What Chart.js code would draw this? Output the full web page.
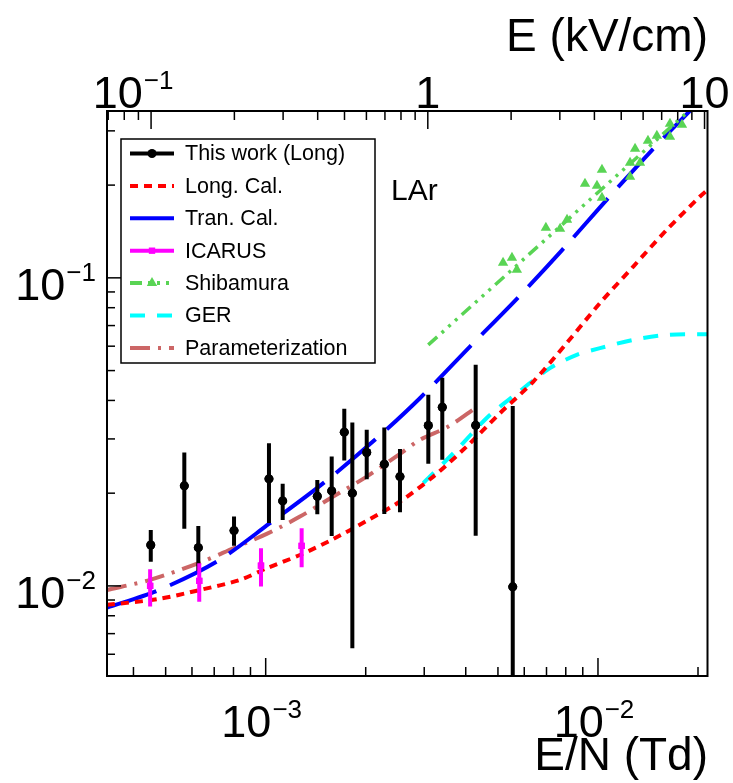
<!DOCTYPE html>
<html>
<head>
<meta charset="utf-8">
<script src="https://cdn.jsdelivr.net/npm/chart.js@4.4.0/dist/chart.umd.min.js"></script>
<style>
  html, body { margin: 0; padding: 0; background: #fff; }
  #wrap { width: 733px; height: 783px; }
</style>
</head>
<body>
<div id="wrap"><canvas id="c"></canvas></div>
<script>
// This work (Long): E/N (Td), value, error bar low / high
const workX  = [4.51e-4, 5.69e-4, 6.27e-4, 8.03e-4, 1.023e-3, 1.125e-3, 1.43e-3, 1.58e-3, 1.724e-3, 1.823e-3, 2.014e-3, 2.275e-3, 2.536e-3, 3.086e-3, 3.40e-3, 4.285e-3, 5.54e-3];
const workY  = [0.01358, 0.02113, 0.01331, 0.01512, 0.02226, 0.01888, 0.01955, 0.02034, 0.03155, 0.0200, 0.0271, 0.02484, 0.02264, 0.03316, 0.0380, 0.0332, 0.00993];
const workLo = [0.01199, 0.01532, 0.01119, 0.01351, 0.01601, 0.01638, 0.01709, 0.01453, 0.02552, 0.00628, 0.02221, 0.01713, 0.01735, 0.0249, 0.02566, 0.01456, 0.004];
const workHi = [0.01520, 0.02710, 0.01566, 0.01679, 0.02906, 0.02144, 0.02209, 0.02630, 0.03756, 0.03389, 0.0321, 0.03266, 0.02785, 0.0417, 0.0474, 0.0522, 0.0384];

// ICARUS
const icarusX  = [4.49e-4, 6.31e-4, 9.68e-4, 1.283e-3];
const icarusY  = [0.0100, 0.01038, 0.01164, 0.01349];
const icarusLo = [0.00857, 0.00889, 0.00995, 0.0115];
const icarusHi = [0.01133, 0.01185, 0.01325, 0.01539];

// Shibamura
const shibaX = [5.18e-3, 5.51e-3, 5.70e-3, 6.97e-3, 7.69e-3, 8.07e-3, 9.14e-3, 9.93e-3, 0.01028, 0.01028, 0.01249, 0.01249, 0.01293, 0.01338, 0.01414, 0.01504, 0.01647, 0.01647, 0.0179];
const shibaY = [0.1119, 0.1161, 0.1062, 0.1453, 0.1442, 0.1543, 0.2019, 0.1989, 0.2242, 0.1819, 0.2362, 0.2128, 0.2623, 0.2362, 0.2784, 0.2891, 0.2869, 0.3162, 0.3139];
const shibaLineX = [3.085e-3, 0.01918];
const shibaLineY = [0.0606, 0.3557];

// Long. Cal.
const longX = [3.33e-4, 4.70e-4, 6.34e-4, 8.37e-4, 1.007e-3, 1.268e-3, 1.594e-3, 2.014e-3, 2.536e-3, 3.194e-3, 4.025e-3, 5.07e-3, 6.39e-3, 8.05e-3, 0.01014, 0.01277, 0.01609, 0.02028, 0.02136];
const longY = [0.00868, 0.00905, 0.0097, 0.01046, 0.01141, 0.0126, 0.01418, 0.01626, 0.01879, 0.02264, 0.02834, 0.03636, 0.04607, 0.0614, 0.0828, 0.1088, 0.1431, 0.1837, 0.193];

// Tran. Cal.
const tranX = [3.33e-4, 4.70e-4, 7.12e-4, 1.030e-3, 1.491e-3, 2.132e-3, 2.911e-3, 4.118e-3, 5.69e-3, 7.81e-3, 0.01062, 0.0145, 0.01914, 0.0214];
const tranY = [0.0085, 0.00963, 0.01199, 0.01598, 0.02155, 0.02979, 0.04067, 0.05984, 0.0853, 0.1233, 0.1792, 0.259, 0.353, 0.40];

// GER
const gerX = [2.98e-3, 3.085e-3, 3.713e-3, 4.676e-3, 5.63e-3, 7.17e-3, 8.63e-3, 0.01014, 0.01277, 0.01609, 0.02136];
const gerY = [0.0216, 0.02237, 0.0273, 0.03546, 0.0417, 0.05091, 0.05623, 0.05911, 0.06291, 0.0653, 0.06565];

// Parameterization
const paramX = [3.33e-4, 4.485e-4, 6.34e-4, 7.99e-4, 1.007e-3, 1.268e-3, 1.597e-3, 2.014e-3, 2.536e-3, 2.911e-3, 3.543e-3, 4.265e-3];
const paramY = [0.0097, 0.01046, 0.0119, 0.01325, 0.01475, 0.01679, 0.0195, 0.02264, 0.02683, 0.02979, 0.0329, 0.03775];

// axis ranges and labelled ticks
const xRange = [3.33e-4, 0.02136];
const eRange = [0.0693, 10.25];
const yRange = [0.0051, 0.348];
const xTicks = [1e-3, 1e-2];
const xTickExp = ['\u22123', '\u22122'];
const eTicks = [0.1, 1, 10];
const eTickBase = ['10', '1', '10'];
const eTickExp = ['\u22121', '', ''];
const yTicks = [0.01, 0.1];
const yTickExp = ['\u22122', '\u22121'];

const FONT = '"Liberation Sans", Arial, Helvetica, sans-serif';
const pts = (xs, ys) => xs.map((x, i) => ({ x, y: ys[i] }));

const datasets = [
  { label: 'This work (Long)', data: pts(workX, workY), errLo: workLo, errHi: workHi,
    borderColor: '#000', backgroundColor: '#000', pointStyle: 'circle', pointRadius: 4.5,
    borderWidth: 0, showLine: false, legendLine: [] },
  { label: 'ICARUS', data: pts(icarusX, icarusY), errLo: icarusLo, errHi: icarusHi,
    borderColor: '#ff00ff', backgroundColor: '#ff00ff', pointStyle: 'rect', pointRadius: 4.5,
    borderWidth: 0, showLine: false, legendLine: [] },
  { label: 'Shibamura', data: pts(shibaX, shibaY),
    borderColor: '#59d454', backgroundColor: '#59d454', pointStyle: 'triangle', pointRadius: 6,
    borderWidth: 0, showLine: false, legendLine: [12, 6, 3, 6, 3, 6, 3, 6] },
  { label: 'Shibamura line', data: pts(shibaLineX, shibaLineY), noLegend: true,
    borderColor: '#59d454', borderWidth: 3.5, borderDash: [12, 6, 3, 6, 3, 6, 3, 6],
    pointRadius: 0, showLine: true },
  { label: 'Long. Cal.', data: pts(longX, longY), borderColor: '#ff0000', borderWidth: 4,
    borderDash: [8, 6], pointRadius: 0, showLine: true, tension: 0.3 },
  { label: 'Tran. Cal.', data: pts(tranX, tranY), borderColor: '#0000ff', borderWidth: 4,
    borderDash: [52, 15], pointRadius: 0, showLine: true, tension: 0.3 },
  { label: 'GER', data: pts(gerX, gerY), borderColor: '#00ffff', borderWidth: 4,
    borderDash: [15, 12], pointRadius: 0, showLine: true, tension: 0.3 },
  { label: 'Parameterization', data: pts(paramX, paramY), borderColor: '#cc6666', borderWidth: 4,
    borderDash: [20, 8, 3, 8], pointRadius: 0, showLine: true, tension: 0.3 }
];
const legendOrder = ['This work (Long)', 'Long. Cal.', 'Tran. Cal.', 'ICARUS', 'Shibamura', 'GER', 'Parameterization'];

function powLabel(ctx, x, y, base, exp, align) {
  ctx.font = '45px ' + FONT;
  const wb = ctx.measureText(base).width;
  ctx.font = '26px ' + FONT;
  const we = exp ? ctx.measureText(exp).width + 1 : 0;
  const w = wb + we;
  const x0 = align === 'center' ? x - w / 2 : (align === 'right' ? x - w : x);
  ctx.textAlign = 'left';
  ctx.textBaseline = 'alphabetic';
  ctx.font = '45px ' + FONT;
  ctx.fillText(base, x0, y);
  if (exp) {
    ctx.font = '26px ' + FONT;
    ctx.fillText(exp, x0 + wb + 1, y - 19);
  }
}

function logTicks(min, max) {
  const out = [];
  for (let e = Math.floor(Math.log10(min)); e <= Math.ceil(Math.log10(max)); e++) {
    for (let m = 1; m < 10; m++) {
      const v = m * Math.pow(10, e);
      if (v >= min && v <= max) out.push({ v, major: m === 1 });
    }
  }
  return out;
}

const errorBars = {
  id: 'errorBars',
  afterDatasetsDraw(chart) {
    const { ctx, chartArea: a } = chart;
    const ys = chart.scales.y;
    ctx.save();
    ctx.beginPath();
    ctx.rect(a.left, a.top, a.right - a.left, a.bottom - a.top);
    ctx.clip();
    chart.data.datasets.forEach((ds, di) => {
      if (!ds.errLo) return;
      const meta = chart.getDatasetMeta(di);
      ctx.strokeStyle = ds.borderColor;
      ctx.lineWidth = 4;
      meta.data.forEach((p, i) => {
        ctx.beginPath();
        ctx.moveTo(p.x, ys.getPixelForValue(ds.errLo[i]));
        ctx.lineTo(p.x, ys.getPixelForValue(ds.errHi[i]));
        ctx.stroke();
      });
      meta.data.forEach(p => p.draw(ctx, a));
    });
    ctx.restore();
  }
};

const frame = {
  id: 'frame',
  afterDraw(chart) {
    const { ctx, chartArea: a } = chart;
    const xs = chart.scales.x, es = chart.scales.e, ys = chart.scales.y;
    ctx.save();
    ctx.strokeStyle = '#000';
    ctx.fillStyle = '#000';
    ctx.lineWidth = 1.5;
    logTicks(xRange[0], xRange[1]).forEach(t => {
      const px = xs.getPixelForValue(t.v);
      ctx.beginPath(); ctx.moveTo(px, a.bottom); ctx.lineTo(px, a.bottom - (t.major ? 18 : 9)); ctx.stroke();
    });
    logTicks(eRange[0], eRange[1]).forEach(t => {
      const px = es.getPixelForValue(t.v);
      ctx.beginPath(); ctx.moveTo(px, a.top); ctx.lineTo(px, a.top + (t.major ? 18 : 9)); ctx.stroke();
    });
    logTicks(yRange[0], yRange[1]).forEach(t => {
      const py = ys.getPixelForValue(t.v);
      ctx.beginPath(); ctx.moveTo(a.left, py); ctx.lineTo(a.left + (t.major ? 14 : 8), py); ctx.stroke();
    });
    ctx.lineWidth = 2;
    ctx.strokeRect(a.left, a.top, a.right - a.left, a.bottom - a.top);

    xTicks.forEach((v, i) => powLabel(ctx, xs.getPixelForValue(v) - 4, 737, '10', xTickExp[i], 'center'));
    eTicks.forEach((v, i) => powLabel(ctx, es.getPixelForValue(v) - (eTickExp[i] ? 18 : 0), 108, eTickBase[i], eTickExp[i], 'center'));
    yTicks.forEach((v, i) => powLabel(ctx, 96, ys.getPixelForValue(v) + 22, '10', yTickExp[i], 'right'));

    ctx.font = '46px ' + FONT;
    ctx.textAlign = 'right';
    ctx.fillText('E (kV/cm)', 708, 51);
    ctx.fillText('E/N (Td)', 708, 770);
    ctx.textAlign = 'left';
    ctx.font = '30px ' + FONT;
    ctx.fillText('LAr', 391, 200);

    // legend
    const bx = 121, by = 139, bw = 254, bh = 224;
    ctx.fillStyle = '#fff';
    ctx.fillRect(bx, by, bw, bh);
    ctx.lineWidth = 1.5;
    ctx.strokeRect(bx, by, bw, bh);
    legendOrder.forEach((name, k) => {
      const ds = chart.data.datasets.find(d => d.label === name);
      const cy = 153.5 + k * 32.4;
      ctx.strokeStyle = ds.borderColor;
      ctx.lineWidth = 4;
      ctx.setLineDash(ds.legendLine || ds.borderDash || []);
      ctx.beginPath(); ctx.moveTo(130, cy); ctx.lineTo(174, cy); ctx.stroke();
      ctx.setLineDash([]);
      if (!ds.showLine) {
        ctx.fillStyle = ds.backgroundColor;
        Chart.helpers.drawPoint(ctx, { pointStyle: ds.pointStyle, radius: ds.pointRadius, borderWidth: 0 }, 152, cy);
      }
      ctx.fillStyle = '#000';
      ctx.font = '21.5px ' + FONT;
      ctx.textBaseline = 'middle';
      ctx.fillText(name, 185, cy + 1);
      ctx.textBaseline = 'alphabetic';
    });
    ctx.restore();
  }
};

new Chart(document.getElementById('c'), {
  type: 'scatter',
  data: { datasets },
  options: {
    responsive: true,
    maintainAspectRatio: false,
    animation: false,
    devicePixelRatio: 1,
    events: [],
    layout: { padding: { left: 107, right: 25.5, top: 111, bottom: 107 } },
    elements: { line: { borderCapStyle: 'butt' } },
    scales: {
      x: { type: 'logarithmic', bounds: 'data', min: xRange[0], max: xRange[1], display: false },
      e: { type: 'logarithmic', bounds: 'data', position: 'top', axis: 'x', min: eRange[0], max: eRange[1], display: false },
      y: { type: 'logarithmic', bounds: 'data', min: yRange[0], max: yRange[1], display: false }
    },
    plugins: { legend: { display: false }, tooltip: { enabled: false } }
  },
  plugins: [errorBars, frame]
});
</script>
</body>
</html>
